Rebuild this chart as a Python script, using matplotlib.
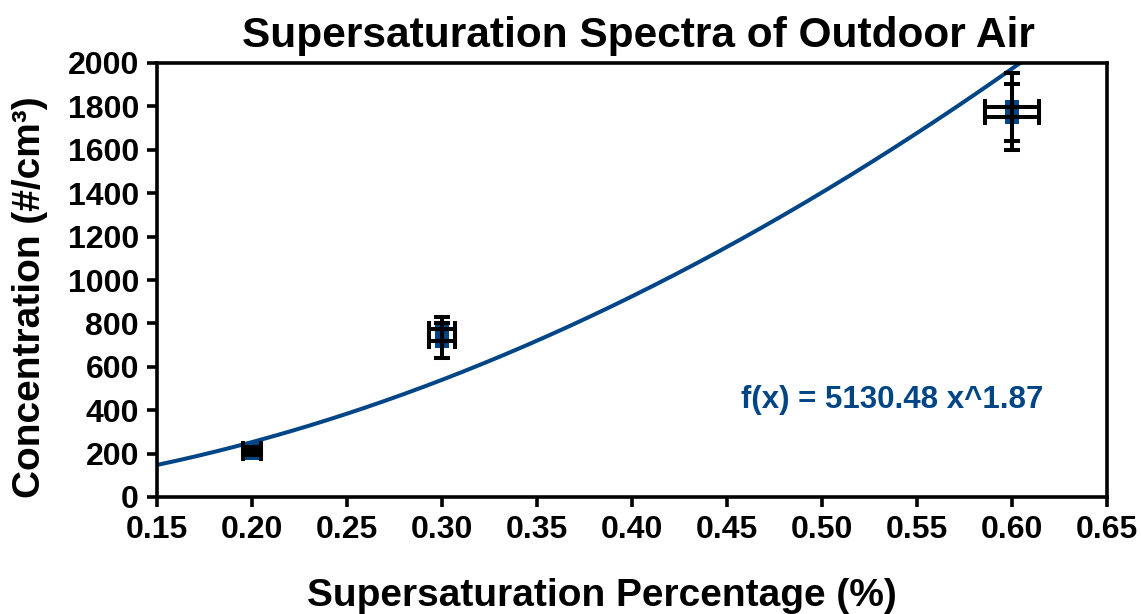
import numpy as np
import matplotlib
matplotlib.use("Agg")
import matplotlib.pyplot as plt

plt.rcParams['font.family'] = ['Liberation Sans', 'DejaVu Sans']
plt.rcParams['font.weight'] = 'bold'

# Data (two measurement sets per supersaturation)
ss = [0.20, 0.20, 0.30, 0.30, 0.60, 0.60]
conc = [220, 205, 775, 720, 1797, 1751]
conc_err = [12, 12, 55, 80, 155, 150]
ss_err = [0.0048, 0.0048, 0.007, 0.007, 0.014, 0.014]

fit_a = 5130.48
fit_b = 1.87

xticks = [0.15, 0.20, 0.25, 0.30, 0.35, 0.40, 0.45, 0.50, 0.55, 0.60, 0.65]
yticks = [0, 200, 400, 600, 800, 1000, 1200, 1400, 1600, 1800, 2000]

blue = '#004586'
W, H = 1141, 614

fig = plt.figure(figsize=(W / 100, H / 100), dpi=100)
ax = fig.add_axes([157/W, 1-497/H, (1107-157)/W, (497-63)/H])

xf = np.linspace(0.15, 0.65, 400)
ax.plot(xf, fit_a * xf ** fit_b, color=blue, lw=2.9, zorder=2, clip_on=True)

ax.scatter(ss, conc, marker='s', s=90, color=blue, zorder=3, linewidths=0)
ax.errorbar(ss, conc, yerr=conc_err, xerr=ss_err, fmt='none', ecolor='black',
            elinewidth=2.9, capsize=6, capthick=2.9, zorder=4)

ax.text(0.537, 447, 'f(x) = 5130.48 x^1.87', color=blue, fontsize=22.5,
        fontweight='bold', ha='center', va='center')

ax.set_xlim(0.15, 0.65)
ax.set_ylim(0, 2000)
ax.set_xticks(xticks)
ax.set_xticklabels([f'{v:.2f}' for v in xticks])
ax.set_yticks(yticks)
ax.tick_params(axis='both', direction='out', length=7, width=2.6, labelsize=23, pad=6)
for lab in ax.get_xticklabels() + ax.get_yticklabels():
    lab.set_fontweight('bold')
for s in ax.spines.values():
    s.set_linewidth(2.6)

fig.text(638/W, 1-47/H, 'Supersaturation Spectra of Outdoor Air', fontsize=30.5,
         fontweight='bold', ha='center', va='baseline')
fig.text(602/W, 1-606/H, 'Supersaturation Percentage (%)', fontsize=28,
         fontweight='bold', ha='center', va='baseline')
fig.text(30/W, 1-297/H, 'Concentration (#/cm³)', fontsize=28, fontweight='bold',
         ha='center', va='center', rotation=90)

fig.savefig('out.png', dpi=100)
